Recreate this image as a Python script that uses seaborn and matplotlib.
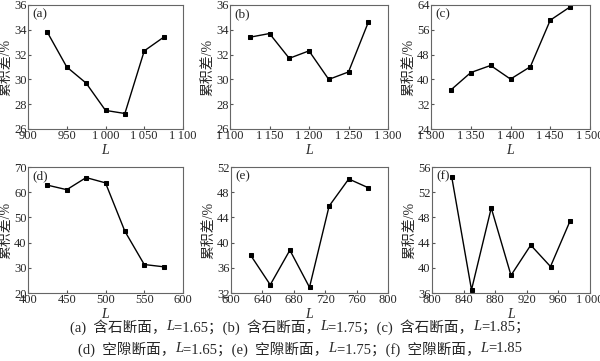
import pandas as pd
import seaborn as sns
import matplotlib.pyplot as plt

# data
L_a = [925, 950, 975, 1000, 1025, 1050, 1075]
v_a = [33.8, 31.0, 29.7, 27.5, 27.25, 32.3, 33.4]
L_b = [1125, 1150, 1175, 1200, 1225, 1250, 1275]
v_b = [33.4, 33.7, 31.7, 32.3, 30.0, 30.6, 34.6]
L_c = [1325, 1350, 1375, 1400, 1425, 1450, 1475]
v_c = [36.6, 42.2, 44.5, 40.1, 44.1, 59.1, 63.4]
L_d = [425, 450, 475, 500, 525, 550, 575]
v_d = [62.8, 61.0, 65.8, 63.7, 44.5, 31.3, 30.4]
L_e = [625, 650, 675, 700, 725, 750, 775]
v_e = [38.0, 33.3, 38.8, 32.9, 45.8, 50.1, 48.7]
L_f = [825, 850, 875, 900, 925, 950, 975]
v_f = [54.4, 36.5, 49.5, 38.8, 43.6, 40.2, 47.5]

panel_labels = ["(a)", "(b)", "(c)", "(d)", "(e)", "(f)"]
xlims = [(900, 1100), (1100, 1300), (1300, 1500), (400, 600), (600, 800), (800, 1000)]
xsteps = [50, 50, 50, 50, 40, 40]
ylims = [(26, 36), (26, 36), (24, 64), (20, 70), (32, 52), (36, 56)]
ysteps = [2, 2, 8, 10, 4, 4]

# caption pieces: (text, italic?)
caption1 = [("(a)  含石断面，", False), ("L", True), ("=1.65；(b)  含石断面，", False),
            ("L", True), ("=1.75；(c)  含石断面，", False), ("L", True), ("=1.85；", False)]
caption2 = [("(d)  空隙断面，", False), ("L", True), ("=1.65；(e)  空隙断面，", False),
            ("L", True), ("=1.75；(f)  空隙断面，", False), ("L", True), ("=1.85", False)]

sns.set_style("ticks")
fam = ['Liberation Serif', 'Noto Sans CJK SC']
plt.rcParams['font.family'] = fam

series = [(L_a, v_a), (L_b, v_b), (L_c, v_c), (L_d, v_d), (L_e, v_e), (L_f, v_f)]

W, H = 600, 361
fig = plt.figure(figsize=(6, 3.61), dpi=100)
# axes boxes in pixels: left, top, right, bottom
boxes = [(28, 5, 183, 129), (230, 5, 388, 129), (431, 5, 590, 129),
         (28, 167, 183, 293), (231, 167, 388, 293), (432, 167, 590, 293)]


def fmt(v):
    s = str(int(v))
    if len(s) > 3:
        s = s[:-3] + "\u2009" + s[-3:]
    return s


for i, (x, y) in enumerate(series):
    l, t, r, b = boxes[i]
    ax = fig.add_axes([l / W, 1 - b / H, (r - l) / W, (b - t) / H])
    df = pd.DataFrame({"L": x, "v": y})
    sns.lineplot(data=df, x="L", y="v", ax=ax, color="black", lw=1.0,
                 marker="s", markersize=3.5, markeredgecolor="black")
    x0, x1 = xlims[i]
    y0, y1 = ylims[i]
    ax.set_xlim(x0, x1)
    ax.set_ylim(y0, y1)
    xt = list(range(x0, x1 + 1, xsteps[i]))
    yt = list(range(y0, y1 + 1, ysteps[i]))
    ax.set_xticks(xt)
    ax.set_xticklabels([fmt(v) for v in xt])
    ax.set_yticks(yt)
    ax.set_yticklabels([str(v) for v in yt])
    ax.tick_params(direction="in", length=2.5, labelsize=9, pad=1, color="#555555")
    for s in ax.spines.values():
        s.set_color("#666666")
        s.set_linewidth(0.8)
    ax.set_xlabel("L", fontsize=10, style="italic", labelpad=1)
    ax.set_ylabel("累积差/%", fontsize=10, labelpad=1)
    ax.text(0.03, 0.97, panel_labels[i], transform=ax.transAxes,
            fontsize=9.5, va="top", ha="left")


def draw_line(pieces, ypix, size=10.5):
    renderer = fig.canvas.get_renderer()
    texts = []
    widths = []
    for s, it in pieces:
        t = fig.text(0, 1 - ypix / H, s, fontsize=size, va="center", ha="left",
                     style="italic" if it else "normal")
        texts.append(t)
        widths.append(t.get_window_extent(renderer).width)
    total = sum(widths)
    xpos = (W - total) / 2
    for t, w in zip(texts, widths):
        t.set_x(xpos / W)
        xpos += w


draw_line(caption1, 327)
draw_line(caption2, 349)

plt.savefig("out.png", dpi=100)
plt.close()
